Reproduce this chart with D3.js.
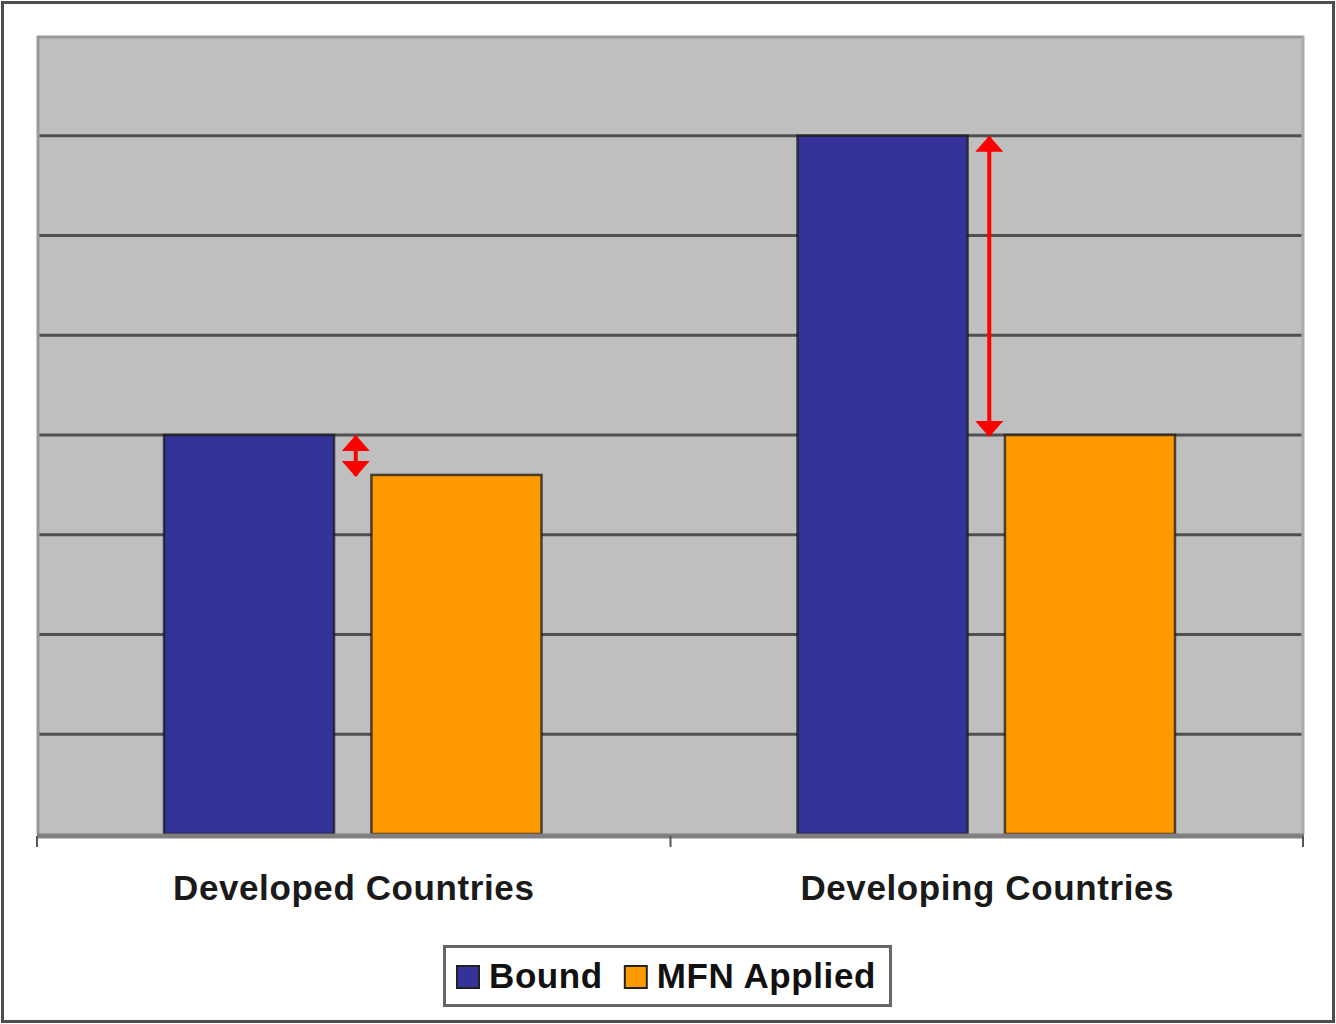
<!DOCTYPE html>
<html>
<head>
<meta charset="utf-8">
<script src="https://cdn.jsdelivr.net/npm/d3@7"></script>
<style>
  html, body { margin: 0; padding: 0; background: #fff; }
  svg { display: block; }
  text { font-family: "Liberation Sans", Arial, sans-serif; }
</style>
</head>
<body>
<div id="chart"></div>
<script>
// chart values
var categories = ['Developed Countries', 'Developing Countries'];
var seriesNames = ['Bound', 'MFN Applied'];
var boundValues = [4, 7];
var mfnValues = [3.6, 4];
var yTicks = [0, 1, 2, 3, 4, 5, 6, 7, 8];

var colors = { 'Bound': '#333399', 'MFN Applied': '#ff9900' };

(function() {
    var width = 1336, height = 1024;
    var plot = { left: 37, right: 1304, top: 36, bottom: 834 };

    var svg = d3.select('#chart').append('svg')
        .attr('width', width)
        .attr('height', height);

    // outer frame
    svg.append('rect')
        .attr('x', 2.5).attr('y', 2.5)
        .attr('width', width - 5).attr('height', height - 5)
        .attr('fill', '#fff')
        .attr('stroke', '#4d4d4d')
        .attr('stroke-width', 3);

    var x0 = d3.scaleBand()
        .domain(categories)
        .range([plot.left, plot.right])
        .paddingInner(0)
        .paddingOuter(0);

    var x1 = d3.scaleBand()
        .domain(seriesNames)
        .range([127, x0.bandwidth() - 129])
        .paddingInner(0.18);

    var y = d3.scaleLinear()
        .domain([0, 8])
        .range([plot.bottom, plot.top]);

    // plot area
    svg.append('rect')
        .attr('x', plot.left).attr('y', plot.top)
        .attr('width', plot.right - plot.left)
        .attr('height', plot.bottom - plot.top)
        .attr('fill', '#bfbfbf');

    // gridlines
    svg.append('g')
        .selectAll('line')
        .data(yTicks.filter(function(d) { return d > 0 && d < 8; }))
        .join('line')
        .attr('x1', plot.left).attr('x2', plot.right)
        .attr('y1', function(d) { return y(d); })
        .attr('y2', function(d) { return y(d); })
        .attr('stroke', '#505050')
        .attr('stroke-width', 3);

    // plot border: top & left darker gray, right lighter
    svg.append('line')
        .attr('x1', plot.left).attr('x2', plot.right)
        .attr('y1', plot.top + 1).attr('y2', plot.top + 1)
        .attr('stroke', '#999').attr('stroke-width', 3);
    svg.append('line')
        .attr('x1', plot.left + 1).attr('x2', plot.left + 1)
        .attr('y1', plot.top).attr('y2', plot.bottom)
        .attr('stroke', '#999').attr('stroke-width', 3);
    svg.append('line')
        .attr('x1', plot.right - 1).attr('x2', plot.right - 1)
        .attr('y1', plot.top).attr('y2', plot.bottom)
        .attr('stroke', '#aaa').attr('stroke-width', 3);

    var rows = categories.map(function(c, i) {
        return { category: c, values: [
            { name: 'Bound', value: boundValues[i] },
            { name: 'MFN Applied', value: mfnValues[i] }
        ] };
    });

    var groups = svg.append('g')
        .selectAll('g')
        .data(rows)
        .join('g')
        .attr('transform', function(d) { return 'translate(' + x0(d.category) + ',0)'; });

    groups.selectAll('rect')
        .data(function(d) { return d.values; })
        .join('rect')
        .attr('x', function(d) { return x1(d.name); })
        .attr('y', function(d) { return y(d.value); })
        .attr('width', x1.bandwidth())
        .attr('height', function(d) { return y(0) - y(d.value); })
        .attr('fill', function(d) { return colors[d.name]; })
        .attr('stroke', '#1a1a1a')
        .attr('stroke-opacity', 0.75)
        .attr('stroke-width', 2.5);

    // x axis line
    svg.append('line')
        .attr('x1', plot.left).attr('x2', plot.right)
        .attr('y1', plot.bottom + 2).attr('y2', plot.bottom + 2)
        .attr('stroke', '#808080')
        .attr('stroke-width', 5);

    // tick marks between categories
    var tickXs = categories.map(function(c) { return x0(c); }).concat([plot.right - 1]);
    svg.append('g')
        .selectAll('line')
        .data(tickXs)
        .join('line')
        .attr('x1', function(d) { return d; })
        .attr('x2', function(d) { return d; })
        .attr('y1', plot.bottom + 2)
        .attr('y2', plot.bottom + 13)
        .attr('stroke', '#555')
        .attr('stroke-width', 2);

    // category labels
    svg.append('g')
        .selectAll('text')
        .data(categories)
        .join('text')
        .attr('x', function(d) { return x0(d) + x0.bandwidth() / 2; })
        .attr('y', 900)
        .attr('text-anchor', 'middle')
        .attr('font-size', '35px')
        .attr('font-weight', 'bold')
        .attr('letter-spacing', '0.6px')
        .attr('fill', '#1a1a1a')
        .text(function(d) { return d; });

    // red double arrows showing the gap between bound and applied
    var defs = svg.append('defs');
    defs.append('marker')
        .attr('id', 'head')
        .attr('viewBox', '0 0 16 28')
        .attr('refX', 15).attr('refY', 14)
        .attr('markerWidth', 16).attr('markerHeight', 28)
        .attr('markerUnits', 'userSpaceOnUse')
        .attr('orient', 'auto-start-reverse')
        .append('path')
        .attr('d', 'M0,0 L16,14 L0,28 Z')
        .attr('fill', '#ff0000');

    groups.append('line')
        .attr('x1', function() { return (x1('Bound') + x1.bandwidth() + x1('MFN Applied')) / 2 + 3; })
        .attr('x2', function() { return (x1('Bound') + x1.bandwidth() + x1('MFN Applied')) / 2 + 3; })
        .attr('y1', function(d) { return y(d.values[0].value) + 1; })
        .attr('y2', function(d) { return y(d.values[1].value) + 1; })
        .attr('stroke', '#ff0000')
        .attr('stroke-width', 4)
        .attr('marker-start', 'url(#head)')
        .attr('marker-end', 'url(#head)');

    // legend
    var legend = svg.append('g');
    legend.append('rect')
        .attr('x', 444.5).attr('y', 946.5)
        .attr('width', 446).attr('height', 59)
        .attr('fill', '#fff')
        .attr('stroke', '#666')
        .attr('stroke-width', 3);

    var cursor = 457;
    seriesNames.forEach(function(name) {
        legend.append('rect')
            .attr('x', cursor).attr('y', 966)
            .attr('width', 22).attr('height', 22)
            .attr('fill', colors[name])
            .attr('stroke', '#222')
            .attr('stroke-width', 2);
        var t = legend.append('text')
            .attr('x', cursor + 32)
            .attr('y', 988)
            .attr('font-size', '35px')
            .attr('font-weight', 'bold')
            .attr('letter-spacing', '0.6px')
            .attr('fill', '#111')
            .text(name);
        cursor += 32 + t.node().getComputedTextLength() + 22;
    });
})();
</script>
</body>
</html>
